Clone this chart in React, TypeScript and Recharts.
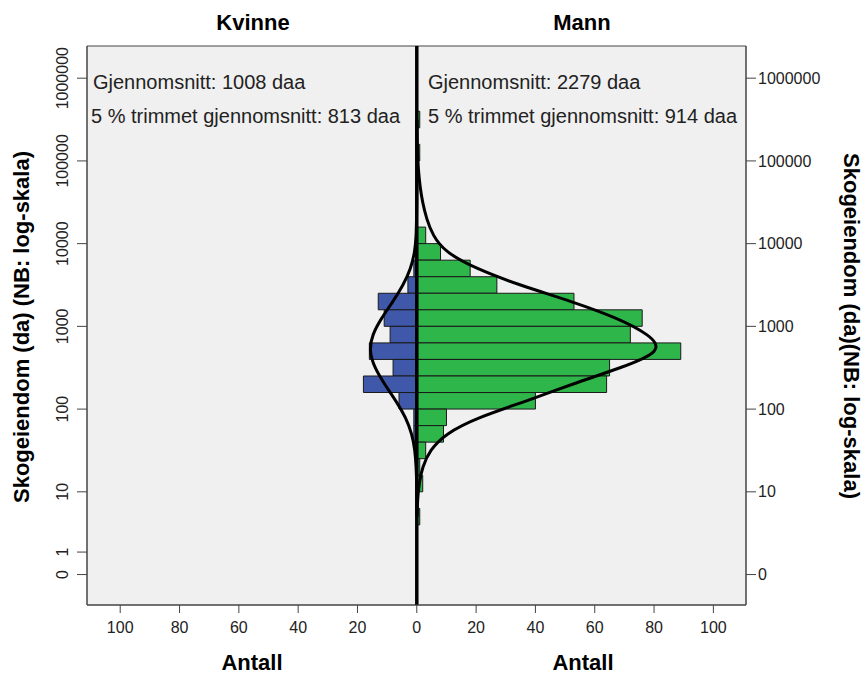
import React from 'react'
import {
  ComposedChart,
  Bar,
  Line,
  XAxis,
  YAxis,
  CartesianGrid,
  ReferenceLine,
  ReferenceArea,
} from 'recharts'

// histogram bins: log10(daa) at the centre of each bin, every bin is 0.2 wide
const binCentre = [5.5, 5.3, 5.1, 4.9, 4.7, 4.5, 4.3, 4.1, 3.9, 3.7, 3.5, 3.3, 3.1, 2.9, 2.7, 2.5, 2.3, 2.1, 1.9, 1.7, 1.5, 1.3, 1.1, 0.9, 0.7]
const kvinneCounts = [0, 0, 0, 0, 0, 0, 0, 0, 0, 1, 3, 13, 11, 9, 16, 8, 18, 6, 1, 1, 0, 0, 0, 0, 0]
const mannCounts = [1, 0, 1, 0, 0, 0, 0, 3, 8, 18, 27, 53, 76, 72, 89, 65, 64, 40, 10, 9, 3, 1, 2, 0, 1]

// fitted normal curves at the bin centres
const kvinneCurve = [0, 0, 0, 0, 0, 0.02, 0.1, 0.25, 0.8, 2.2, 4.7, 8.1, 11.8, 14.7, 15.6, 14, 10.8, 7.1, 3.9, 1.8, 0.7, 0.25, 0.05, 0, 0]
const mannCurve = [0.03, 0.1, 0.25, 0.55, 1.1, 2.0, 3.4, 5.7, 10.5, 20.5, 35, 52, 67, 77.5, 80, 68.5, 52.5, 37, 21.5, 10.5, 4.8, 2.1, 0.85, 0.3, 0.07]

const xTicks = [-100, -80, -60, -40, -20, 0, 20, 40, 60, 80, 100]
const leftTickValues = [1, 1.87, 10, 100, 1000, 10000, 100000, 1000000]
const leftTickLabels = ['0', '1', '10', '100', '1000', '10000', '100000', '1000000']
const rightTickValues = [1, 10, 100, 1000, 10000, 100000, 1000000]
const rightTickLabels = ['0', '10', '100', '1000', '10000', '100000', '1000000']

const yDomain = [0.4285, 2449000]
const xDomain = [-111.2, 111]

const FONT = '"Liberation Sans", Arial, sans-serif'
const AXIS = '#444'
const TEXT = '#222'

const rows = binCentre.map((c, i) => ({
  y: Math.pow(10, c),
  kvinne: kvinneCounts[i] ? -kvinneCounts[i] : null,
  mann: mannCounts[i] ? mannCounts[i] : null,
  kvinneFit: -kvinneCurve[i],
  mannFit: mannCurve[i],
}))

const nearestLabel = (v: number, values: number[], labels: string[]) => {
  let best = 0
  values.forEach((t, i) => {
    if (Math.abs(Math.log10(t) - Math.log10(v)) < Math.abs(Math.log10(values[best]) - Math.log10(v))) best = i
  })
  return labels[best]
}

const LeftTick = (props: any) => {
  const { x, y, payload } = props
  const bx = x - 6.5
  return (
    <text x={bx} y={y} transform={`rotate(-90 ${bx} ${y})`} textAnchor="middle" fontSize={16} fill={TEXT} fontFamily={FONT}>
      {nearestLabel(payload.value, leftTickValues, leftTickLabels)}
    </text>
  )
}

const RightTick = (props: any) => {
  const { x, y, payload } = props
  return (
    <text x={x} y={y} dy="0.35em" textAnchor="start" fontSize={16} fill={TEXT} fontFamily={FONT}>
      {nearestLabel(payload.value, rightTickValues, rightTickLabels)}
    </text>
  )
}

const App: React.FC = () => {
  return (
    <div style={{ position: 'absolute', left: 0, top: 0, width: 866, height: 675, background: '#fff' }}>
      <ComposedChart
        layout="vertical"
        width={866}
        height={675}
        data={rows}
        stackOffset="sign"
        margin={{ top: 46, right: 0, bottom: 0, left: 0 }}
      >
        <CartesianGrid horizontal={false} vertical={false} fill="#f0f0f0" />
        <XAxis
          type="number"
          domain={xDomain}
          allowDataOverflow
          ticks={xTicks}
          interval={0}
          tickFormatter={(v: number) => String(Math.abs(v))}
          height={70}
          tickSize={8}
          tickMargin={9}
          tick={{ fontSize: 16, fill: TEXT, fontFamily: FONT }}
          axisLine={{ stroke: AXIS }}
          tickLine={{ stroke: AXIS }}
        />
        <YAxis
          type="number"
          dataKey="y"
          scale="log"
          domain={yDomain}
          reversed
          allowDataOverflow
          ticks={leftTickValues}
          interval={0}
          width={87}
          tickSize={10}
          tick={<LeftTick />}
          axisLine={{ stroke: AXIS }}
          tickLine={{ stroke: AXIS }}
        />
        <YAxis
          yAxisId="right"
          orientation="right"
          type="number"
          dataKey="y"
          scale="log"
          domain={yDomain}
          reversed
          allowDataOverflow
          ticks={rightTickValues}
          interval={0}
          width={120}
          tickSize={10}
          tick={<RightTick />}
          axisLine={{ stroke: AXIS }}
          tickLine={{ stroke: AXIS }}
        />
        <Bar dataKey="kvinne" stackId="a" barSize={16.5} fill="#3f58aa" stroke="#1a1a1a" strokeWidth={1} isAnimationActive={false} />
        <Bar dataKey="mann" stackId="a" barSize={16.5} fill="#2fb64a" stroke="#1a1a1a" strokeWidth={1} isAnimationActive={false} />
        <Line dataKey="kvinneFit" type="natural" stroke="#000" strokeWidth={3} dot={false} isAnimationActive={false} />
        <Line dataKey="mannFit" type="natural" stroke="#000" strokeWidth={3} dot={false} isAnimationActive={false} />
        <ReferenceLine x={0} stroke="#000" strokeWidth={3.5} />
        <ReferenceArea
          x1={xDomain[0]}
          x2={xDomain[1]}
          y1={yDomain[0]}
          y2={yDomain[1]}
          fill="none"
          stroke={AXIS}
          strokeWidth={1}
          ifOverflow="visible"
        />
      </ComposedChart>
      <svg
        width={866}
        height={675}
        style={{ position: 'absolute', left: 0, top: 0, pointerEvents: 'none' }}
        fontFamily={FONT}
      >
        <text x={253} y={30} textAnchor="middle" fontSize={22} fontWeight="bold" fill="#000">Kvinne</text>
        <text x={582} y={30} textAnchor="middle" fontSize={22} fontWeight="bold" fill="#000">Mann</text>
        <text x={252} y={670} textAnchor="middle" fontSize={22} fontWeight="bold" fill="#000">Antall</text>
        <text x={583} y={670} textAnchor="middle" fontSize={22} fontWeight="bold" fill="#000">Antall</text>
        <text x={29} y={327} transform="rotate(-90 29 327)" textAnchor="middle" fontSize={22} fontWeight="bold" fill="#000">
          Skogeiendom (da) (NB: log-skala)
        </text>
        <text x={844} y={326} transform="rotate(90 844 326)" textAnchor="middle" fontSize={22} fontWeight="bold" fill="#000">
          Skogeiendom (da)(NB: log-skala)
        </text>
        <text x={93} y={89} fontSize={20} fill={TEXT}>Gjennomsnitt: 1008 daa</text>
        <text x={91} y={123} fontSize={20} fill={TEXT}>5 % trimmet gjennomsnitt: 813 daa</text>
        <text x={428} y={89} fontSize={20} fill={TEXT}>Gjennomsnitt: 2279 daa</text>
        <text x={428} y={123} fontSize={20} fill={TEXT}>5 % trimmet gjennomsnitt: 914 daa</text>
      </svg>
    </div>
  )
}

export default App
